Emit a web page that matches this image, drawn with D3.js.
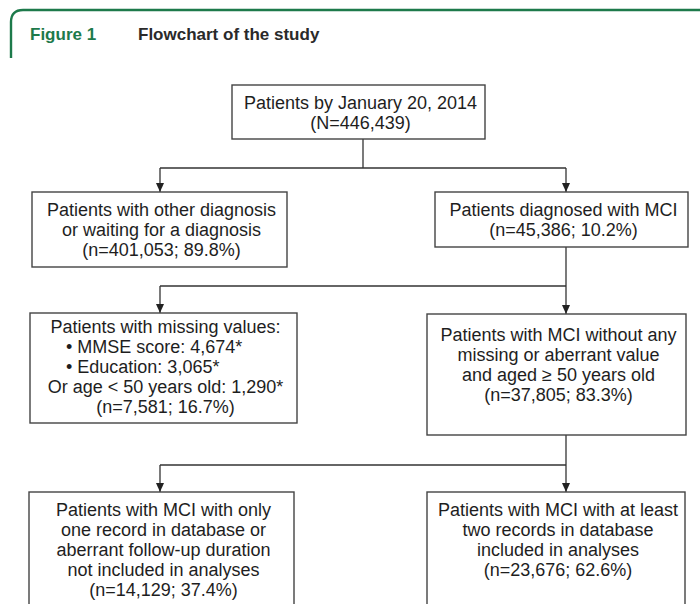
<!DOCTYPE html>
<html>
<head>
<meta charset="utf-8">
<script src="https://cdn.jsdelivr.net/npm/d3@7"></script>
<style>
  body { margin: 0; background: #fff; }
  svg { display: block; }
  text { font-family: "Liberation Sans", Arial, sans-serif; }
</style>
</head>
<body>
<div id="chart"></div>
<script>
// ---- data ----
var figureLabel = "Figure 1";
var figureTitle = "Flowchart of the study";

var boxTitles = [
    ["Patients by January 20, 2014"],
    ["Patients with other diagnosis", "or waiting for a diagnosis"],
    ["Patients diagnosed with MCI"],
    ["Patients with missing values:"],
    ["Patients with MCI without any", "missing or aberrant value", "and aged \u2265 50 years old"],
    ["Patients with MCI with only", "one record in database or", "aberrant follow-up duration", "not included in analyses"],
    ["Patients with MCI with at least", "two records in database", "included in analyses"]
];
var boxCounts = [446439, 401053, 45386, 7581, 37805, 14129, 23676];
var boxPercents = [null, 89.8, 10.2, 16.7, 83.3, 37.4, 62.6];
var missingItems = ["MMSE score", "Education"];
var missingCounts = [4674, 3065];
var ageExcludedCount = 1290;
var flowLinks = [[0, 1], [0, 2], [2, 3], [2, 4], [4, 5], [4, 6]];

// ---- layout ----
var W = 700, H = 604;
var fmt = d3.format(",");

// box frames: left/right edge, top/bottom
var boxLayout = [
    {x0: 232, x1: 485, y0: 85,  y1: 139, pad: 18, out: 363},
    {x0: 32,  x1: 287, y0: 192, y1: 267, pad: 18},
    {x0: 435, x1: 688, y0: 192, y1: 247, pad: 18, out: 566},
    {x0: 30,  x1: 297, y0: 313, y1: 423, pad: 14},
    {x0: 427, x1: 686, y0: 314, y1: 435, pad: 21, out: 566},
    {x0: 29,  x1: 294, y0: 492, y1: 650, pad: 18},
    {x0: 427, x1: 685, y0: 492, y1: 650, pad: 18}
];
// x where the arrow enters each column, y of each horizontal split
var inX = d3.scaleOrdinal().domain([1, 2, 3, 4, 5, 6]).range([160, 566, 160, 566, 160, 566]);
var splitY = d3.scaleOrdinal().domain([0, 2, 4]).range([168, 286, 465]);
var lineH = 20;

var svg = d3.select("#chart").append("svg")
    .attr("width", W)
    .attr("height", H);

// arrow head
svg.append("defs").append("marker")
    .attr("id", "arrow")
    .attr("markerUnits", "userSpaceOnUse")
    .attr("viewBox", "0 0 8 9")
    .attr("refX", 4).attr("refY", 9)
    .attr("markerWidth", 8).attr("markerHeight", 9)
    .attr("orient", "0")
    .append("path")
    .attr("d", "M0,0 L8,0 L4,9 Z")
    .attr("fill", "#222");

// header frame
svg.append("path")
    .attr("d", "M11,58 V22 Q11,10 23,10 H700")
    .attr("fill", "none")
    .attr("stroke", "#1d7a4b")
    .attr("stroke-width", 2.4);

svg.append("text")
    .attr("x", 30).attr("y", 40)
    .attr("font-size", 17).attr("font-weight", "bold")
    .attr("fill", "#1d7a4b")
    .text(figureLabel);

svg.append("text")
    .attr("x", 138).attr("y", 40)
    .attr("font-size", 17).attr("font-weight", "bold")
    .attr("fill", "#2a2a2a")
    .text(figureTitle);

// ---- connectors ----
var conn = svg.append("g")
    .attr("fill", "none")
    .attr("stroke", "#333")
    .attr("stroke-width", 1.3);

d3.group(flowLinks, function(d) { return d[0]; }).forEach(function(kids, p) {
    var pb = boxLayout[p];
    var hy = splitY(p);
    var xs = kids.map(function(k) { return inX(k[1]); }).concat([pb.out]);
    conn.append("line")
        .attr("x1", pb.out).attr("x2", pb.out)
        .attr("y1", pb.y1).attr("y2", hy);
    conn.append("line")
        .attr("x1", d3.min(xs)).attr("x2", d3.max(xs))
        .attr("y1", hy).attr("y2", hy);
    kids.forEach(function(k) {
        conn.append("line")
            .attr("x1", inX(k[1])).attr("x2", inX(k[1]))
            .attr("y1", hy).attr("y2", boxLayout[k[1]].y0)
            .attr("marker-end", "url(#arrow)");
    });
});

// ---- boxes ----
function boxText(i) {
    var lines = boxTitles[i].map(function(t) { return {t: t}; });
    if (i === 3) {
        missingItems.forEach(function(m, j) {
            lines.push({t: "\u2022 " + m + ": " + fmt(missingCounts[j]) + "*", anchor: "start", x: 66});
        });
        lines.push({t: "Or age < 50 years old: " + fmt(ageExcludedCount) + "*"});
    }
    if (boxPercents[i] == null) lines.push({t: "(N=" + fmt(boxCounts[i]) + ")"});
    else lines.push({t: "(n=" + fmt(boxCounts[i]) + "; " + boxPercents[i] + "%)"});
    return lines;
}

var boxes = svg.selectAll("g.box")
    .data(boxLayout)
    .enter().append("g")
    .attr("class", "box");

boxes.append("rect")
    .attr("x", function(d) { return d.x0; })
    .attr("y", function(d) { return d.y0; })
    .attr("width", function(d) { return d.x1 - d.x0; })
    .attr("height", function(d) { return d.y1 - d.y0; })
    .attr("fill", "#fff")
    .attr("stroke", "#444")
    .attr("stroke-width", 1.4);

boxes.each(function(d, i) {
    var cx = (d.x0 + d.x1) / 2 + 2;
    d3.select(this).selectAll("text")
        .data(boxText(i))
        .enter().append("text")
        .attr("x", function(l) { return l.x != null ? l.x : cx; })
        .attr("y", function(l, j) { return d.y0 + d.pad + j * lineH; })
        .attr("dy", "0.35em")
        .attr("text-anchor", function(l) { return l.anchor || "middle"; })
        .attr("font-size", 18)
        .attr("fill", "#1e1e1e")
        .text(function(l) { return l.t; });
});
</script>
</body>
</html>
